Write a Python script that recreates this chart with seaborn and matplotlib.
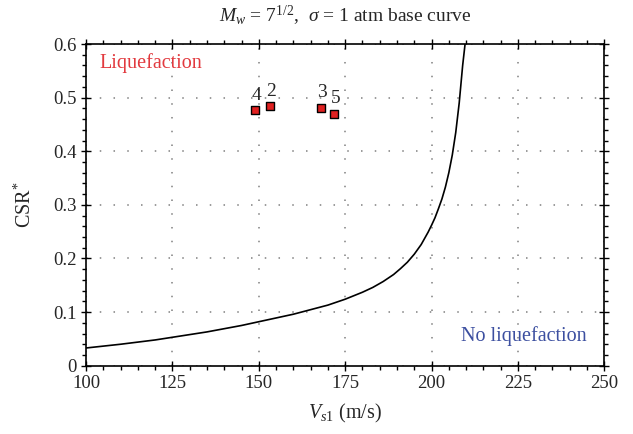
import matplotlib
matplotlib.use("Agg")
import matplotlib.pyplot as plt
import seaborn as sns
import pandas as pd
from matplotlib.ticker import MultipleLocator

# base curve
vs1_curve = [100, 110, 120, 125, 130, 135, 140, 145, 150, 160, 170, 175, 180, 183, 186, 189,
             191, 193, 195, 197, 199, 200, 201, 202, 203, 204, 205, 206, 207, 208, 209, 209.7]
csr_curve = [0.033, 0.040, 0.048, 0.053, 0.058, 0.063, 0.069, 0.075, 0.082, 0.096, 0.113,
             0.124, 0.137, 0.146, 0.157, 0.170, 0.181, 0.193, 0.208, 0.226, 0.249, 0.262,
             0.276, 0.293, 0.311, 0.333, 0.360, 0.393, 0.435, 0.490, 0.560, 0.600]

# case histories
site_ids = ["4", "2", "3", "5"]
site_vs1 = [148.9, 153.2, 168.1, 171.9]
site_csr = [0.476, 0.484, 0.481, 0.470]

curve = pd.DataFrame({"Vs1": vs1_curve, "CSR": csr_curve})
sites = pd.DataFrame({"id": site_ids, "Vs1": site_vs1, "CSR": site_csr})

sns.set_style("ticks")
plt.rcParams["font.family"] = ["Liberation Serif", "DejaVu Serif"]
plt.rcParams["mathtext.fontset"] = "custom"
plt.rcParams["mathtext.rm"] = "Liberation Serif"
plt.rcParams["mathtext.it"] = "Liberation Serif:italic"

fig = plt.figure(figsize=(6.33, 4.34), dpi=100)
ax = fig.add_axes([0.1359, 0.1574, 0.8188, 0.7412])

sns.lineplot(data=curve, x="Vs1", y="CSR", color="black", linewidth=1.2, ax=ax)
sns.scatterplot(data=sites, x="Vs1", y="CSR", marker="s", s=34, color="#e02020",
                edgecolor="black", linewidth=1.0, ax=ax, zorder=5)
for _, r in sites.iterrows():
    ax.text(r["Vs1"] + 0.3, r["CSR"] + 0.012, r["id"], ha="center", va="bottom", fontsize=14)

ax.text(104, 0.565, "Liquefaction", color="#e23a3f", fontsize=14.5, va="center", ha="left")
ax.text(245, 0.055, "No liquefaction", color="#3c4fa0", fontsize=14.5, va="center", ha="right")

ax.set_xlim(100, 250)
ax.set_ylim(0, 0.6)
ax.xaxis.set_major_locator(MultipleLocator(25))
ax.xaxis.set_minor_locator(MultipleLocator(5))
ax.yaxis.set_major_locator(MultipleLocator(0.1))
ax.yaxis.set_minor_locator(MultipleLocator(0.02))
ax.set_yticks([0, 0.1, 0.2, 0.3, 0.4, 0.5, 0.6], ["0", "0.1", "0.2", "0.3", "0.4", "0.5", "0.6"])
ax.tick_params(which="major", direction="inout", length=7, width=1, labelsize=13.5,
               top=True, right=True, labeltop=False, labelright=False, color="black")
ax.tick_params(which="minor", direction="out", length=3, width=1,
               top=True, right=True, color="black")
for sp in ax.spines.values():
    sp.set_color("black")
    sp.set_linewidth(1.2)

ax.grid(True, which="major", color="#808080", linestyle=(0, (1, 8)), linewidth=1.1)

ax.set_xlabel(r"$V_{s1}$ (m/s)", fontsize=14.5, labelpad=7)
ax.set_ylabel(r"CSR$^{*}$", fontsize=14.5, labelpad=12)
ax.set_title(r"$M_w$ = 7$^{1/2}$,  $\sigma$ = 1 atm base curve", fontsize=14, pad=16)

fig.savefig("out.png", dpi=100)
